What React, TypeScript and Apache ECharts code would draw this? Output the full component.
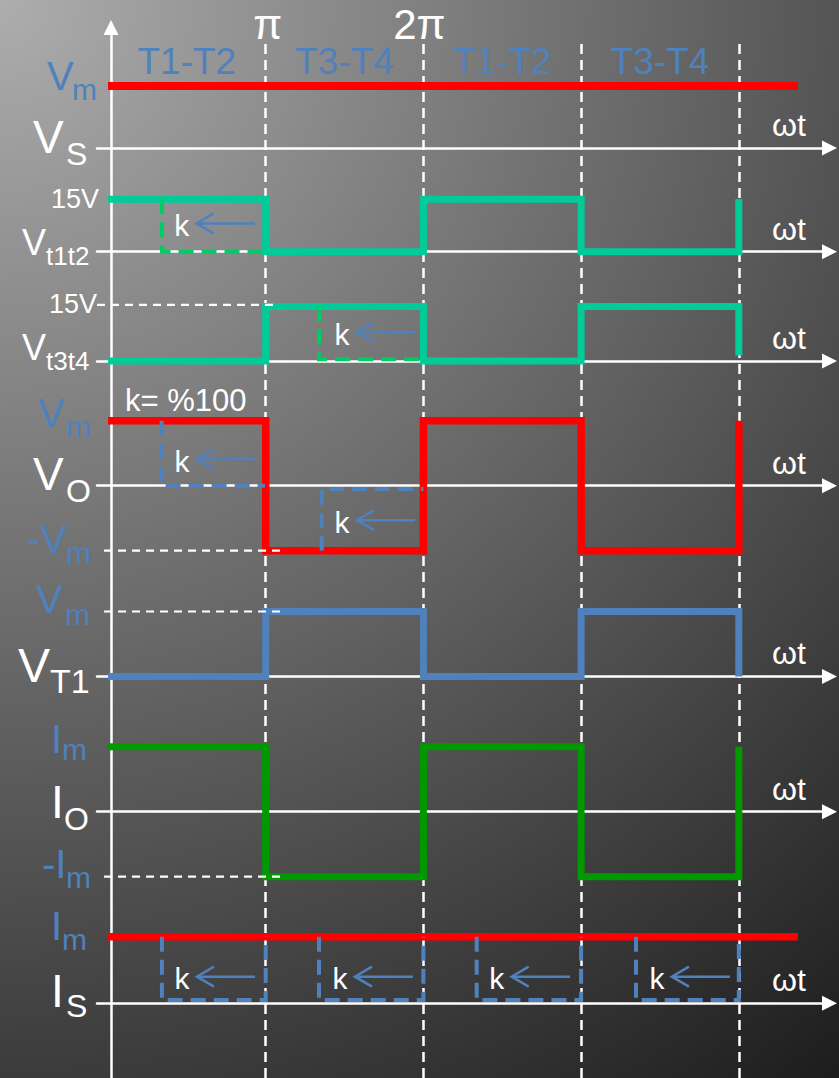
import React, { useEffect, useRef } from 'react';
import * as echarts from 'echarts';

const W = 839;
const H = 1078;
const FONT = '"Liberation Sans", Arial, sans-serif';
const BLUE = '#4F81BD';
const TEAL = '#00CC99';
const GREEN_DASH = '#00CC66';
const RED = '#FF0000';
const GREEN = '#009900';
const WHITE = '#FFFFFF';

// ---- data (x in multiples of π, y in units of the row's amplitude) ----
const periodMarks = [1, 2, 3, 4];
const piLabels = ['π', '2π'];
const phaseLabels = ['T1-T2', 'T3-T4', 'T1-T2', 'T3-T4'];
const phaseCenters = [0.5, 1.5, 2.5, 3.5];

const vmLine = [[0, 1], [4.375, 1]];
const vt1t2 = [[0, 1], [1, 1], [1, 0], [2, 0], [2, 1], [3, 1], [3, 0], [4, 0], [4, 1]];
const vt3t4 = [[0, 0], [1, 0], [1, 1], [2, 1], [2, 0], [3, 0], [3, 1], [4, 1], [4, 0.1]];
const vo = [[0, 1], [1, 1], [1, -1], [2, -1], [2, 1], [3, 1], [3, -1], [4, -1], [4, 1]];
const vt1 = [[0, 0], [1, 0], [1, 1], [2, 1], [2, 0], [3, 0], [3, 1], [4, 1], [4, 0]];
const io = [[0, 1], [1, 1], [1, -1], [2, -1], [2, 1], [3, 1], [3, -1], [4, -1], [4, 1]];
const isLine = [[0, 1], [4.375, 1]];

const vt1t2Guide = [[0.342, 1], [0.342, 0], [0.995, 0]];
const vt3t4Guide = [[1.338, 1], [1.338, 0.03], [1.98, 0.03]];
const voGuide1 = [[0.34, 1], [0.34, 0], [0.995, 0]];
const voGuide2 = [[1.355, -1], [1.355, -0.05], [2, -0.05]];
const isBoxes = [
  [[0.342, 1], [0.342, 0.05], [1, 0.05], [1, 1]],
  [[1.338, 1], [1.338, 0.05], [2, 0.05], [2, 1]],
  [[2.338, 1], [2.338, 0.05], [3, 0.05], [3, 1]],
  [[3.348, 1], [3.348, 0.05], [4, 0.05], [4, 1]],
];

// [tip, tail, level]
const vt1t2Arrows = [[0.562, 0.932, 0.54]];
const vt3t4Arrows = [[1.579, 1.947, 0.53]];
const voArrows = [[0.564, 0.932, 0.41], [1.579, 1.947, -0.53]];
const isArrows = [[0.564, 0.932, 0.4], [1.566, 1.934, 0.4], [2.56, 2.93, 0.4], [3.576, 3.944, 0.4]];

// white dashed level guides [[x0, y], [x1, y]]
const vt3t4Level = [[-0.07, 1.03], [1.07, 1.03]];
const voLevel = [[-0.025, -1], [1.11, -1]];
const vt1Level = [[-0.025, 1], [1.11, 1]];
const ioLevel = [[-0.025, -1], [1.11, -1]];

// ---- layout ----
const X0 = 108;
const PX = 157.7;
const GRID_LEFT = 97;
const LINE_END = 829.5;
const X_MIN = (GRID_LEFT - X0) / PX;
const X_MAX = (LINE_END - X0) / PX;
const GRID_W = LINE_END - GRID_LEFT;
const px = (v: number) => X0 + v * PX;

const rows = [
  { base: 148, amp: 62 },
  { base: 251.7, amp: 52.4 },
  { base: 361, amp: 54.5 },
  { base: 485.7, amp: 65 },
  { base: 676.5, amp: 65 },
  { base: 811.7, amp: 65 },
  { base: 1003.3, amp: 66.6 },
];

// [text, x, baseline, size, color, align]
const sideLabels: any[] = [
  ['V', 47, 90, 40, BLUE], ['m', 72, 100, 30, BLUE],
  ['V', 33, 153, 46, WHITE], ['S', 66, 165, 32, WHITE],
  ['15V', 99, 208, 27, WHITE, 'right'],
  ['V', 22, 255, 36, WHITE], ['t1t2', 46, 265, 26, WHITE],
  ['15V', 97, 313, 27, WHITE, 'right'],
  ['V', 22, 360, 36, WHITE], ['t3t4', 46, 370, 26, WHITE],
  ['V', 38, 427, 40, BLUE], ['m', 66, 437, 30, BLUE],
  ['k= %100', 125, 411, 31, WHITE],
  ['V', 33, 490, 46, WHITE], ['O', 66, 502, 32, WHITE],
  ['-V', 27, 553, 40, BLUE], ['m', 66, 563, 30, BLUE],
  ['V', 36, 613, 40, BLUE], ['m', 65, 625, 30, BLUE],
  ['V', 18, 682, 48, WHITE], ['T1', 50, 693, 34, WHITE],
  ['I', 51, 753, 40, BLUE], ['m', 62, 760, 30, BLUE],
  ['I', 51, 818, 46, WHITE], ['O', 64, 830, 32, WHITE],
  ['-I', 42, 878, 40, BLUE], ['m', 66, 888, 30, BLUE],
  ['I', 51, 940, 40, BLUE], ['m', 62, 950, 30, BLUE],
  ['I', 51, 1007, 46, WHITE], ['S', 66, 1017, 32, WHITE],
];

const txt = (text: string, x: number, baseline: number, size: number, color: string, align = 'left') => ({
  type: 'text',
  x,
  y: baseline - 0.35 * size,
  silent: true,
  z: 10,
  style: { text, fill: color, fontSize: size, fontFamily: FONT, align, verticalAlign: 'middle' },
});

export default function App() {
  const ref = useRef<HTMLDivElement>(null);
  useEffect(() => {
    const chart = echarts.init(ref.current!, undefined, { renderer: 'svg', width: W, height: H });
    const grids: any[] = [];
    const xAxes: any[] = [];
    const yAxes: any[] = [];
    const series: any[] = [];
    const axisLineStyle = { color: WHITE, width: 2.5 };

    grids.push({ left: GRID_LEFT, top: 40, width: GRID_W, height: H - 40 });
    xAxes.push({ type: 'value', gridIndex: 0, min: X_MIN, max: X_MAX, show: false });
    yAxes.push({ type: 'value', gridIndex: 0, min: 0, max: 1, show: false });

    grids.push({ left: 111, top: 27.5, width: 10, height: H - 27.5 });
    xAxes.push({ type: 'value', gridIndex: 1, min: 0, max: 1, show: false });
    yAxes.push({
      type: 'value', gridIndex: 1, min: 0, max: 1,
      axisLine: { show: true, onZero: false, symbol: ['none', 'triangle'], symbolSize: [15, 15], lineStyle: axisLineStyle },
      axisTick: { show: false }, axisLabel: { show: false }, splitLine: { show: false },
    });

    rows.forEach((r, i) => {
      const gi = i + 2;
      grids.push({ left: GRID_LEFT, top: r.base - r.amp, width: GRID_W, height: 2 * r.amp });
      xAxes.push({
        type: 'value', gridIndex: gi, min: X_MIN, max: X_MAX,
        axisLine: { show: true, onZero: true, symbol: ['none', 'triangle'], symbolSize: [15, 15], lineStyle: axisLineStyle },
        axisTick: { show: false }, axisLabel: { show: false }, splitLine: { show: false },
      });
      yAxes.push({ type: 'value', gridIndex: gi, min: -1, max: 1, show: false });
    });

    series.push({
      type: 'line', xAxisIndex: 0, yAxisIndex: 0, data: [[0, 0]], symbol: 'none', showSymbol: false,
      lineStyle: { opacity: 0 }, silent: true, z: 1,
      markLine: {
        silent: true, z: 1, symbol: ['none', 'none'], label: { show: false },
        lineStyle: { color: WHITE, width: 2.5, type: [10, 6] },
        data: periodMarks.map((v) => ({ xAxis: v })),
      },
    });

    const line = (gi: number, data: any, color: string, width: number, z = 3, dash?: any) => ({
      type: 'line', xAxisIndex: gi, yAxisIndex: gi, data, symbol: 'none', showSymbol: false, clip: false, silent: true, z,
      lineStyle: { color, width, join: 'miter', cap: 'butt', type: dash || 'solid' },
    });
    const arrows = (gi: number, data: any) => ({
      type: 'custom', xAxisIndex: gi, yAxisIndex: gi, data, silent: true, z: 6, clip: false,
      encode: { x: [0, 1], y: 2 },
      renderItem: (_p: any, api: any) => {
        const tip = api.coord([api.value(0), api.value(2)]);
        const tail = api.coord([api.value(1), api.value(2)]);
        return {
          type: 'group',
          children: [
            { type: 'line', shape: { x1: tail[0], y1: tail[1], x2: tip[0] + 1, y2: tip[1] }, style: { stroke: BLUE, lineWidth: 2.5 } },
            { type: 'polyline', shape: { points: [[tip[0] + 17, tip[1] - 10], [tip[0], tip[1]], [tip[0] + 17, tip[1] + 10]] }, style: { stroke: BLUE, lineWidth: 2.5, fill: null } },
            { type: 'text', x: tip[0] - 15, y: tip[1] + 2, style: { text: 'k', fill: WHITE, fontSize: 30, fontFamily: FONT, align: 'center', verticalAlign: 'middle' } },
          ],
        };
      },
    });
    const BD = [15, 8];
    const WD = [8, 6];

    // row 0: Vs
    series.push(line(2, vmLine, RED, 8));
    // row 1: Vt1t2
    series.push(line(3, vt1t2, TEAL, 7));
    series.push(line(3, vt1t2Guide, GREEN_DASH, 4, 4, BD));
    series.push(arrows(3, vt1t2Arrows));
    // row 2: Vt3t4
    series.push(line(4, vt3t4, TEAL, 7));
    series.push(line(4, vt3t4Guide, GREEN_DASH, 4, 4, BD));
    series.push(line(4, vt3t4Level, WHITE, 2.2, 5, WD));
    series.push(arrows(4, vt3t4Arrows));
    // row 3: Vo
    series.push(line(5, vo, RED, 7.5));
    series.push(line(5, voGuide1, BLUE, 4, 4, BD));
    series.push(line(5, voGuide2, BLUE, 4, 4, BD));
    series.push(line(5, voLevel, WHITE, 2.2, 5, WD));
    series.push(arrows(5, voArrows));
    // row 4: VT1
    series.push(line(6, vt1, BLUE, 7));
    series.push(line(6, vt1Level, WHITE, 2.2, 5, WD));
    // row 5: Io
    series.push(line(7, io, GREEN, 7));
    series.push(line(7, ioLevel, WHITE, 2.2, 5, WD));
    // row 6: Is
    series.push(line(8, isLine, RED, 7.5));
    isBoxes.forEach((b) => series.push(line(8, b, BLUE, 4, 4, BD)));
    series.push(arrows(8, isArrows));

    const graphic: any[] = [];
    sideLabels.forEach((l) => graphic.push(txt(l[0], l[1], l[2], l[3], l[4], l[5] || 'left')));
    rows.forEach((r) => graphic.push(txt('ωt', 772, r.base - 12, 32, WHITE)));
    graphic.push(txt(piLabels[0], px(1) + 2, 39, 42, WHITE, 'center'));
    graphic.push(txt(piLabels[1], px(2) - 4, 39, 42, WHITE, 'center'));
    phaseLabels.forEach((t, i) => graphic.push(txt(t, px(phaseCenters[i]), 74, 37, BLUE, 'center')));

    chart.setOption({
      animation: false,
      backgroundColor: 'transparent',
      grid: grids,
      xAxis: xAxes,
      yAxis: yAxes,
      series,
      graphic,
    });
    return () => chart.dispose();
  }, []);
  return (
    <div
      ref={ref}
      style={{
        position: 'absolute', left: 0, top: 0, width: W, height: H,
        background: 'radial-gradient(circle at 0px 0px, #adadad 0px, #1c1c1c 1370px)',
      }}
    />
  );
}
